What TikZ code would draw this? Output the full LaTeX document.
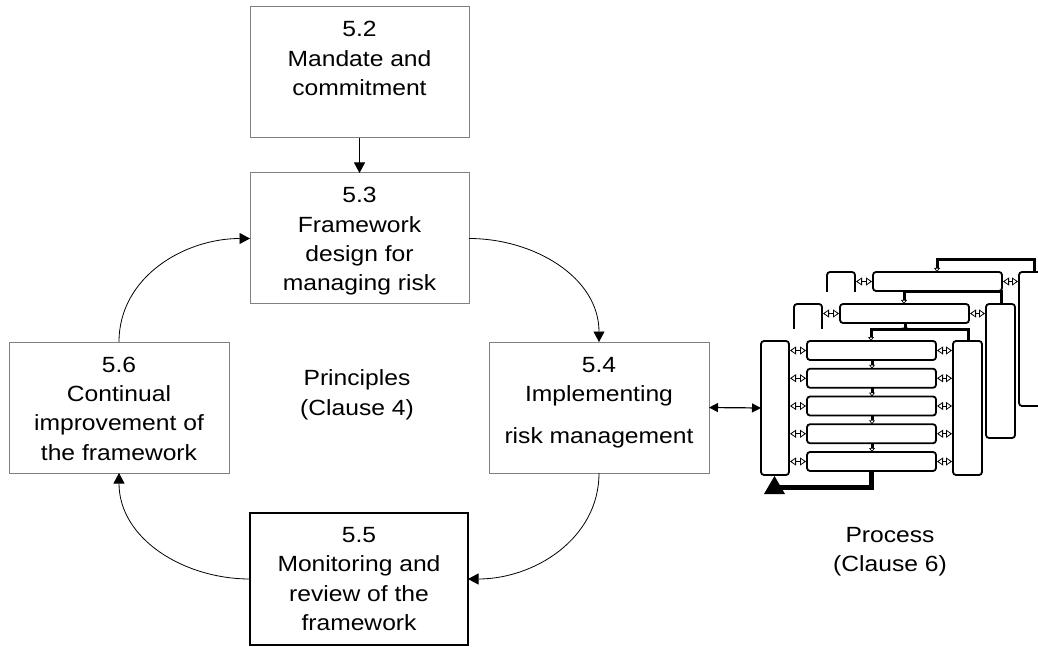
\documentclass[tikz,border=0pt]{standalone}
\usepackage{fontspec}
\setmainfont{Liberation Sans}[FakeStretch=1.12]
\usetikzlibrary{arrows.meta}
\definecolor{boxgray}{rgb}{0.5,0.5,0.5}

\begin{document}
\begin{tikzpicture}[x=1pt,y=1pt]
        \tikzstyle{every node} = [rectangle, inner sep=0pt, outer sep=0pt, font=\fontsize{22}{29.3}\selectfont]
        \tikzstyle{box} = [draw=boxgray, line width=1pt, minimum width=219pt, minimum height=131pt]
        \tikzstyle{txt} = [align=center, anchor=north]
        \tikzstyle{flow} = [line width=0.8pt, -{Triangle[length=10.5pt,width=11pt]}]
        \tikzstyle{both} = [line width=1.2pt, {Triangle[length=9pt,width=9pt]}-{Triangle[length=9pt,width=9pt]}]
        \tikzstyle{pbox} = [line width=1.8pt, rounded corners=3pt]
        \tikzstyle{eye} = [line width=0.8pt, {Triangle[open,length=6pt,width=8pt]}-{Triangle[open,length=6pt,width=8pt]}]
        \tikzstyle{pline} = [line width=3pt, -{Triangle[open,length=4pt,width=6pt,line width=0.7pt]}]
        \useasboundingbox (0,0) rectangle (1038,646);
        \clip (0,0) rectangle (1038,646);

        \node[box] (52) at (359.5,573.5) {};
        \node[box] (53) at (359.5,407.5) {};
        \node[box, minimum width=220pt] (54) at (599,238.5) {};
        \node[box, draw=black, line width=1.4pt, minimum width=218pt, minimum height=132pt] (55) at (359,67) {};
        \node[box, minimum width=220pt] (56) at (119,238.5) {};

        \node[txt] (t52) at ([yshift=-14.5pt]52.north) {5.2\\Mandate and\\commitment};
        \node[txt] (t53) at ([yshift=-14.5pt]53.north) {5.3\\Framework\\design for\\managing risk};
        \node[txt] (t54) at ([yshift=-15pt]54.north) {5.4\\Implementing\\[13pt]risk management};
        \node[txt] (t55) at ([yshift=-14.5pt]55.north) {5.5\\Monitoring and\\review of the\\framework};
        \node[txt] (t56) at ([yshift=-15pt]56.north) {5.6\\Continual\\improvement of\\the framework};
        \node[txt] (pr) at (357,276) {Principles\\(Clause 4)};
        \node[txt] (pc) at (890,119) {Process\\(Clause 6)};

        \draw[flow] (52) -- (53);
        \draw[flow] (56.north) to[out=90,in=180] (53.west);
        \draw[flow] (53.east) to[out=0,in=90] (54.north);
        \draw[flow] (54.south) to[out=-90,in=0] (55.east);
        \draw[flow] (55.west) to[out=180,in=-90] (56.south);

        \foreach \ox/\oy in {827/374, 794/342, 761/305} {
            \begin{scope}[shift={(\ox,\oy)}, yscale=-1]
                \fill[white] (-3,-12) rectangle (224,155);
                \draw[pbox] (0,0) rectangle (28,134);
                \draw[pbox] (192,0) rectangle (221,134);
                \foreach \i in {0,...,4} {
                    \draw[pbox] (46,\i*27.75) rectangle (175,\i*27.75+19);
                    \draw[eye] (29,\i*27.75+9.5) -- (45,\i*27.75+9.5);
                    \draw[eye] (176,\i*27.75+9.5) -- (191,\i*27.75+9.5);
                }
                \foreach \i in {1,...,4}
                    \draw[pline] (111,\i*27.75-8.75) -- (111,\i*27.75);
                \draw[pline] (207,0) -- (207,-12) -- (110,-12) -- (110,0);
                \draw[line width=5pt] (110.5,130) -- (110.5,146) -- (16,146);
                \fill (3,153) -- (13.5,135) -- (24,153) -- cycle;
            \end{scope}
        }
        \coordinate (pin) at (761,238);
        \draw[both] (54.east) -- (pin);
\end{tikzpicture}
\end{document}
